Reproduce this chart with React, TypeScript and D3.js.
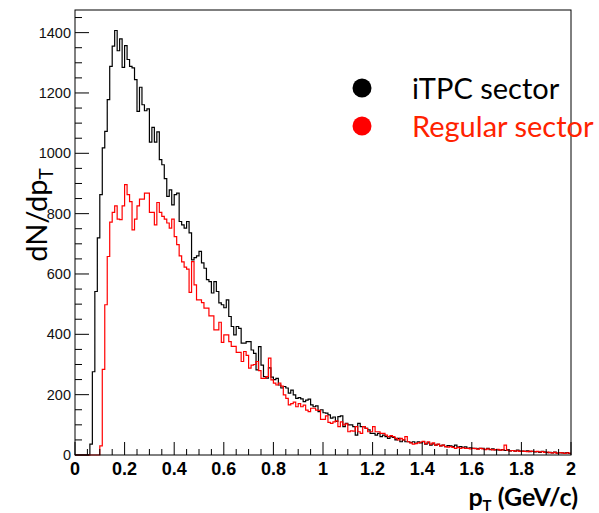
import React from "react";
import * as d3 from "d3";

// bins of 0.01 GeV/c from 0 to 2
const binWidth = 0.01;
const itpc = [
  0, 0, 0, 0, 0, 0, 36, 276, 542, 720,
  863, 1018, 1073, 1178, 1288, 1355, 1407, 1340, 1379, 1285,
  1357, 1311, 1288, 1283, 1244, 1139, 1219, 1161, 1141, 1147,
  1037, 1086, 1037, 1071, 979, 962, 916, 857, 879, 829,
  863, 868, 774, 763, 752, 774, 736, 647, 654, 660,
  675, 637, 619, 581, 575, 537, 575, 542, 504, 498,
  488, 514, 459, 426, 398, 426, 420, 371, 371, 376,
  376, 348, 337, 282, 359, 298, 260, 255, 289, 258,
  250, 254, 232, 222, 227, 222, 205, 215, 199, 188,
  190, 186, 177, 182, 185, 166, 160, 163, 144, 150,
  140, 139, 133, 122, 126, 111, 127, 130, 94, 105,
  100, 100, 94, 66, 105, 94, 94, 88, 83, 72,
  72, 66, 72, 61, 66, 61, 55, 61, 58, 50,
  55, 44, 50, 44, 44, 41, 44, 39, 44, 40,
  44, 36, 40, 33, 37, 33, 35, 30, 33, 28,
  31, 30, 28, 33, 26, 28, 25, 27, 22, 24,
  22, 22, 20, 22, 22, 19, 22, 18, 20, 17,
  17, 16, 18, 15, 17, 14, 15, 13, 16, 13,
  13, 12, 14, 11, 12, 10, 11, 9, 12, 10,
  8, 9, 7, 10, 6, 8, 7, 6, 8, 5,
];
const regular = [
  0, 0, 0, 0, 0, 0, 0, 0, 0, 0,
  30, 284, 498, 658, 772, 804, 826, 782, 780, 826,
  896, 863, 840, 746, 782, 826, 848, 848, 868, 868,
  804, 804, 763, 837, 804, 791, 782, 769, 752, 782,
  724, 697, 660, 640, 623, 616, 539, 641, 564, 514,
  514, 505, 487, 487, 461, 461, 415, 415, 440, 373,
  398, 398, 376, 360, 360, 340, 340, 310, 343, 330,
  288, 298, 300, 310, 280, 254, 254, 260, 321, 249,
  238, 232, 238, 228, 199, 188, 166, 170, 175, 160,
  170, 160, 165, 149, 144, 155, 155, 149, 148, 118,
  118, 130, 108, 105, 110, 113, 94, 110, 100, 103,
  77, 80, 79, 94, 77, 72, 94, 88, 77, 77,
  94, 77, 77, 72, 72, 66, 61, 64, 61, 55,
  50, 55, 50, 61, 44, 40, 36, 38, 40, 42,
  45, 38, 44, 36, 40, 33, 36, 30, 33, 28,
  26, 28, 25, 22, 25, 22, 24, 22, 22, 20,
  22, 21, 19, 22, 20, 18, 20, 19, 17, 18,
  19, 16, 17, 33, 16, 14, 15, 13, 14, 12,
  13, 12, 11, 13, 12, 11, 12, 10, 11, 9,
  10, 8, 7, 9, 6, 8, 7, 5, 7, 6,
];
const xTicks = [0, 0.2, 0.4, 0.6, 0.8, 1, 1.2, 1.4, 1.6, 1.8, 2];
const yTicks = [0, 200, 400, 600, 800, 1000, 1200, 1400];
const legendItems = ["iTPC sector", "Regular sector"];
const colors = ["#000000", "#ff0000"];

const W = 599;
const H = 513;
const left = 75;
const right = 571;
const top = 10;
const bottom = 455;

export default function App() {
  const x = d3.scaleLinear().domain([0, 2]).range([left, right]);
  const y = d3.scaleLinear().domain([0, 1475]).range([bottom, top]);

  const stepLine = (vals: number[]) => {
    const pts: [number, number][] = vals.map((v, i) => [i * binWidth, v]);
    pts.push([vals.length * binWidth, vals[vals.length - 1]]);
    return d3
      .line<[number, number]>()
      .x((d) => x(d[0]))
      .y((d) => y(d[1]))
      .curve(d3.curveStepAfter)(pts) as string;
  };

  const xMinor = d3.range(0, 2.0001, 0.05);
  const yMinor = d3.range(0, 1451, 50);

  return (
    <svg width={W} height={H} style={{ position: "absolute", left: 0, top: 0 }}>
      <rect width={W} height={H} fill="#fff" />
      {/* histograms */}
      <path d={stepLine(itpc)} fill="none" stroke={colors[0]} strokeWidth={1.2} />
      <path d={stepLine(regular)} fill="none" stroke={colors[1]} strokeWidth={1.2} />

      {/* frame */}
      <rect x={left} y={top} width={right - left} height={bottom - top} fill="none" stroke="#000" strokeWidth={1} />

      {/* y ticks */}
      {yMinor.map((v) => (
        <line key={"ym" + v} x1={left} x2={left + (v % 200 === 0 ? 14 : 7)} y1={y(v)} y2={y(v)} stroke="#000" />
      ))}
      {yTicks.map((v) => (
        <text key={"yl" + v} x={left - 4} y={y(v) + 5} textAnchor="end" fontFamily="Liberation Sans, Arial, sans-serif" fontSize={14.5} fill="#111">
          {v}
        </text>
      ))}

      {/* x ticks */}
      {xMinor.map((v) => {
        const major = Math.abs(Math.round(v * 5) - v * 5) < 1e-6;
        return <line key={"xm" + v} x1={x(v)} x2={x(v)} y1={bottom} y2={bottom - (major ? 13 : 6)} stroke="#000" />;
      })}
      {xTicks.map((v) => (
        <text key={"xl" + v} x={x(v)} y={475} textAnchor="middle" fontFamily="Liberation Sans, Arial, sans-serif" fontWeight="bold" fontSize={18} fill="#000">
          {v}
        </text>
      ))}

      {/* axis titles */}
      <text x={578} y={506} textAnchor="end" fontFamily="Lato, sans-serif" fontWeight="bold" fontSize={25} fill="#000">
        p<tspan fontSize={15} dy={5}>T</tspan>
        <tspan dy={-5}> (GeV/c)</tspan>
      </text>
      <text transform="translate(47,215) rotate(-90)" textAnchor="middle" fontFamily="Lato, sans-serif" fontSize={29} fill="#000">
        dN/dp<tspan fontSize={19} dy={6}>T</tspan>
      </text>

      {/* legend */}
      {legendItems.map((t, i) => (
        <g key={t}>
          <circle cx={362} cy={88 + i * 38} r={9.5} fill={colors[i]} />
          <text x={412} y={99 + i * 38} fontFamily="Lato, sans-serif" fontSize={29} fill={i === 0 ? "#000" : "#ff2200"}>
            {t}
          </text>
        </g>
      ))}
    </svg>
  );
}
